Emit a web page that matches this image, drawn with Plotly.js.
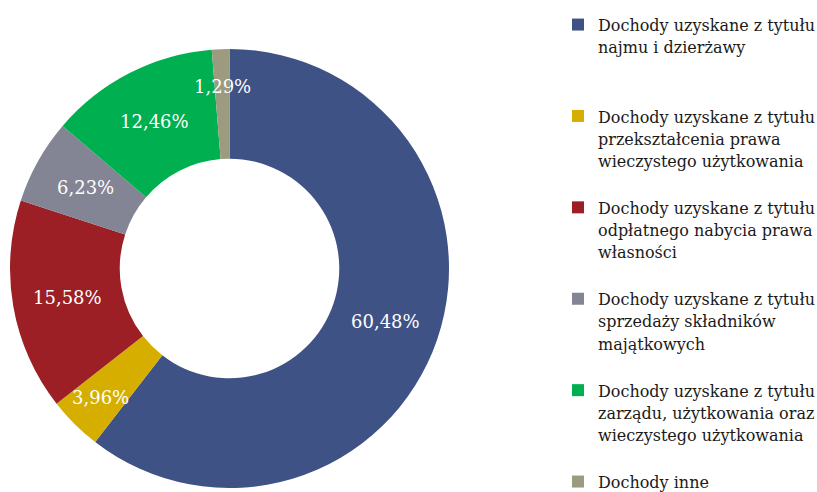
<!DOCTYPE html>
<html>
<head>
<meta charset="utf-8">
<script src="https://cdn.plot.ly/plotly-3.0.1.min.js"></script>
<style>html,body{margin:0;padding:0;background:#fff;}#chart{width:817px;height:492px;}</style>
</head>
<body>
<div id="chart"></div>
<script>
// Data
const categories = [
  "Dochody uzyskane z tytułu<br>najmu i dzierżawy",
  "Dochody uzyskane z tytułu<br>przekształcenia prawa<br>wieczystego użytkowania",
  "Dochody uzyskane z tytułu<br>odpłatnego nabycia prawa<br>własności",
  "Dochody uzyskane z tytułu<br>sprzedaży składników<br>majątkowych",
  "Dochody uzyskane z tytułu<br>zarządu, użytkowania oraz<br>wieczystego użytkowania",
  "Dochody inne"
];
const shares = [60.48, 3.96, 15.58, 6.23, 12.46, 1.29];
const colors = ["#3F5285", "#D6AE00", "#9B1F24", "#838494", "#00B050", "#9C9B7F"];

// Layout constants
const W = 817, H = 492;
const dom = {x: [10 / W, 449 / W], y: [4 / H, 443 / H]};
const HOLE = 0.5;
const LINES_PER_ITEM = 4;

// Legend labels: glyphs at 16px, line pitch driven by legend font size
const legendLabels = categories.map((c, i) => {
  const lines = c.split("<br>");
  const styled = lines.map(l => '<span style="font-size:16px">' + l + '</span>');
  if (i < categories.length - 1) {
    while (styled.length < LINES_PER_ITEM) styled.push(" ");
  }
  return styled.join("<br>");
});

const trace = {
  type: "pie",
  labels: legendLabels,
  values: shares,
  sort: false,
  direction: "clockwise",
  rotation: 0,
  hole: HOLE,
  marker: {colors: colors, line: {width: 0}},
  textinfo: "none",
  domain: dom,
  hoverinfo: "percent"
};

// Data labels placed at each slice's mid-angle (derived from values)
const total = shares.reduce((a, b) => a + b, 0);
const cxPx = (dom.x[0] + dom.x[1]) / 2 * W;
const cyPx = (1 - (dom.y[0] + dom.y[1]) / 2) * H;
const Rpx = Math.min((dom.x[1] - dom.x[0]) * W, (dom.y[1] - dom.y[0]) * H) / 2;
let cum = 0;
const annotations = shares.map((v) => {
  const mid = (cum + v / 2) / total;
  cum += v;
  const theta = mid * 2 * Math.PI;
  const rFrac = v / total < 0.05 ? 0.83 : (1 + HOLE) / 2;
  const r = Rpx * rFrac;
  const xPx = cxPx + r * Math.sin(theta);
  const yPx = cyPx - r * Math.cos(theta);
  return {
    xref: "paper", yref: "paper",
    x: xPx / W, y: 1 - yPx / H,
    xanchor: "center", yanchor: "middle",
    showarrow: false,
    text: v.toFixed(2).replace(".", ",") + "%",
    font: {family: "DejaVu Serif", size: 18, color: "#ffffff"}
  };
});

const layout = {
  width: W, height: H,
  margin: {l: 0, r: 0, t: 0, b: 0, autoexpand: false},
  paper_bgcolor: "#ffffff",
  showlegend: true,
  annotations: annotations,
  legend: {
    x: 558 / W, xanchor: "left", y: 1 - 7 / H, yanchor: "top",
    valign: "top",
    font: {family: "DejaVu Serif", size: 17, color: "#1a1a1a"},
    bgcolor: "rgba(0,0,0,0)"
  }
};
Plotly.newPlot("chart", [trace], layout, {displayModeBar: false, staticPlot: true});
</script>
</body>
</html>
